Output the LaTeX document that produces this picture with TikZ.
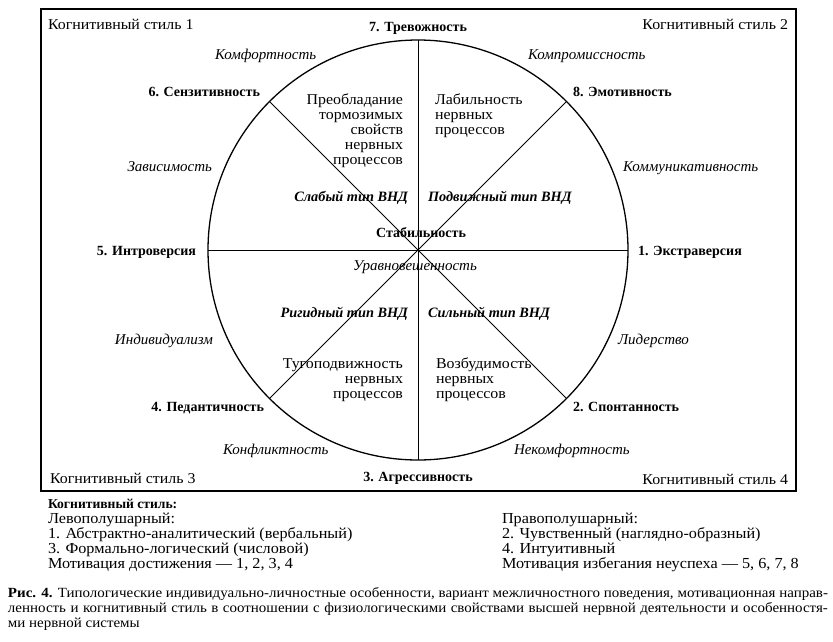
\documentclass[tikz,border=0pt]{standalone}
\usepackage{fontspec}
\usetikzlibrary{calc}
\setmainfont{Liberation Serif}
\newfontfamily\regf[FakeStretch=1.06]{Liberation Serif}
\newfontfamily\capf[FakeStretch=1.07]{Liberation Serif}
\begin{document}
\begin{tikzpicture}[x=1pt,y=-1pt,inner sep=0pt,outer sep=0pt,
  txt/.style={font=\fontsize{15}{15.4}\selectfont\regf},
  pole/.style={font=\fontsize{14}{15.4}\selectfont\bfseries},
  trait/.style={font=\fontsize{15}{15.4}\selectfont\itshape},
  vnd/.style={font=\fontsize{14.3}{15.4}\selectfont\bfseries\itshape},
  legend/.style={font=\fontsize{15.3}{15}\selectfont\regf},
  leghead/.style={font=\fontsize{13.6}{15}\selectfont\bfseries},
  capt/.style={font=\fontsize{14}{15}\selectfont\capf},
  spoke/.style={line width=1pt},
]
\useasboundingbox (0,0) rectangle (833,641);
% frame and circle
\draw[line width=1.2pt] (41,9) rectangle (796,491);
\coordinate (c) at (418,250);
\draw[line width=1.3pt] (c) circle[radius=210];
\foreach \a in {0,45,...,315} { \coordinate (p\a) at ($(c)+(\a:210)$); }
\draw[spoke] (p0) -- (p180);
\draw[spoke] (p90) -- (p270);
\draw[spoke] (p45) -- (p225);
\draw[spoke] (p135) -- (p315);
% corner labels
\node[txt,anchor=base west] (cs1) at (48,29.5) {Когнитивный стиль 1};
\node[txt,anchor=base east] (cs2) at (788,29) {Когнитивный стиль 2};
\node[txt,anchor=base west] (cs3) at (50,483) {Когнитивный стиль 3};
\node[txt,anchor=base east] (cs4) at (788,484) {Когнитивный стиль 4};
% poles
\node[pole,anchor=base] (n7) at (418,31) {7. Тревожность};
\node[pole,anchor=base east] (n6) at (260,96) {6. Сензитивность};
\node[pole,anchor=base west] (n8) at (573,96) {8. Эмотивность};
\node[pole,anchor=base east] (n5) at (196,255) {5. Интроверсия};
\node[pole,anchor=base west] (n1) at (638,255) {1. Экстраверсия};
\node[pole,anchor=base east] (n4) at (264,411) {4. Педантичность};
\node[pole,anchor=base west] (n2) at (573,411) {2. Спонтанность};
\node[pole,anchor=base] (n3) at (418,481) {3. Агрессивность};
% traits
\node[trait,anchor=base west] (t1) at (215,59) {Комфортность};
\node[trait,anchor=base west] (t2) at (528,59) {Компромиссность};
\node[trait,anchor=base east] (t3) at (212,171) {Зависимость};
\node[trait,anchor=base west] (t4) at (623,171) {Коммуникативность};
\node[trait,anchor=base east] (t5) at (213,344) {Индивидуализм};
\node[trait,anchor=base west] (t6) at (618,344) {Лидерство};
\node[trait,anchor=base west] (t7) at (223,454) {Конфликтность};
\node[trait,anchor=base west] (t8) at (514,454) {Некомфортность};
% centre
\node[pole,anchor=base] (stab) at (421,237) {Стабильность};
\node[trait,anchor=base] (urav) at (415,270) {Уравновешенность};
% VND types
\node[vnd,anchor=base east] (v1) at (408,201) {Слабый тип ВНД};
\node[vnd,anchor=base west] (v2) at (428,201) {Подвижный тип ВНД};
\node[vnd,anchor=base east] (v3) at (408,317) {Ригидный тип ВНД};
\node[vnd,anchor=base west] (v4) at (428,317) {Сильный тип ВНД};
% nervous processes
\foreach \t [count=\i from 0] in {Преобладание,тормозимых,свойств\ ,нервных,процессов}
  \node[txt,anchor=base east] (qa\i) at (403,104+15.2*\i) {\t};
\foreach \t [count=\i from 0] in {Лабильность,нервных,процессов}
  \node[txt,anchor=base west] (qb\i) at (435,104+15.2*\i) {\t};
\foreach \t [count=\i from 0] in {Тугоподвижность,нервных,процессов}
  \node[txt,anchor=base east] (qc\i) at (403,368+15.2*\i) {\t};
\foreach \t [count=\i from 0] in {Возбудимость,нервных,процессов}
  \node[txt,anchor=base west] (qd\i) at (436,368+15.2*\i) {\t};
% legend
\node[leghead,anchor=base west] (lh) at (48,508) {Когнитивный стиль:};
\foreach \t [count=\i from 0] in {Левополушарный:,1. Абстрактно-аналитический (вербальный),3. Формально-логический (числовой),{Мотивация достижения — 1, 2, 3, 4}}
  \node[legend,anchor=base west] (ll\i) at (48,523+15*\i) {\t};
\foreach \t [count=\i from 0] in {Правополушарный:,2. Чувственный (наглядно-образный),4. Интуитивный,{Мотивация избегания неуспеха — 5, 6, 7, 8}}
  \node[legend,anchor=base west] (lr\i) at (502,523+15*\i) {\t};
% caption
\node[capt,anchor=base west] (cap1) at (8,597) {\makebox[820pt][s]{\textbf{Рис. 4.} Типологические индивидуально-личностные особенности, вариант межличностного поведения, мотивационная направ-}};
\node[capt,anchor=base west] (cap2) at (8,612) {\makebox[820pt][s]{ленность и когнитивный стиль в соотношении с физиологическими свойствами высшей нервной деятельности и особенностя-}};
\node[capt,anchor=base west] (cap3) at (8,627) {ми нервной системы};
\end{tikzpicture}
\end{document}
